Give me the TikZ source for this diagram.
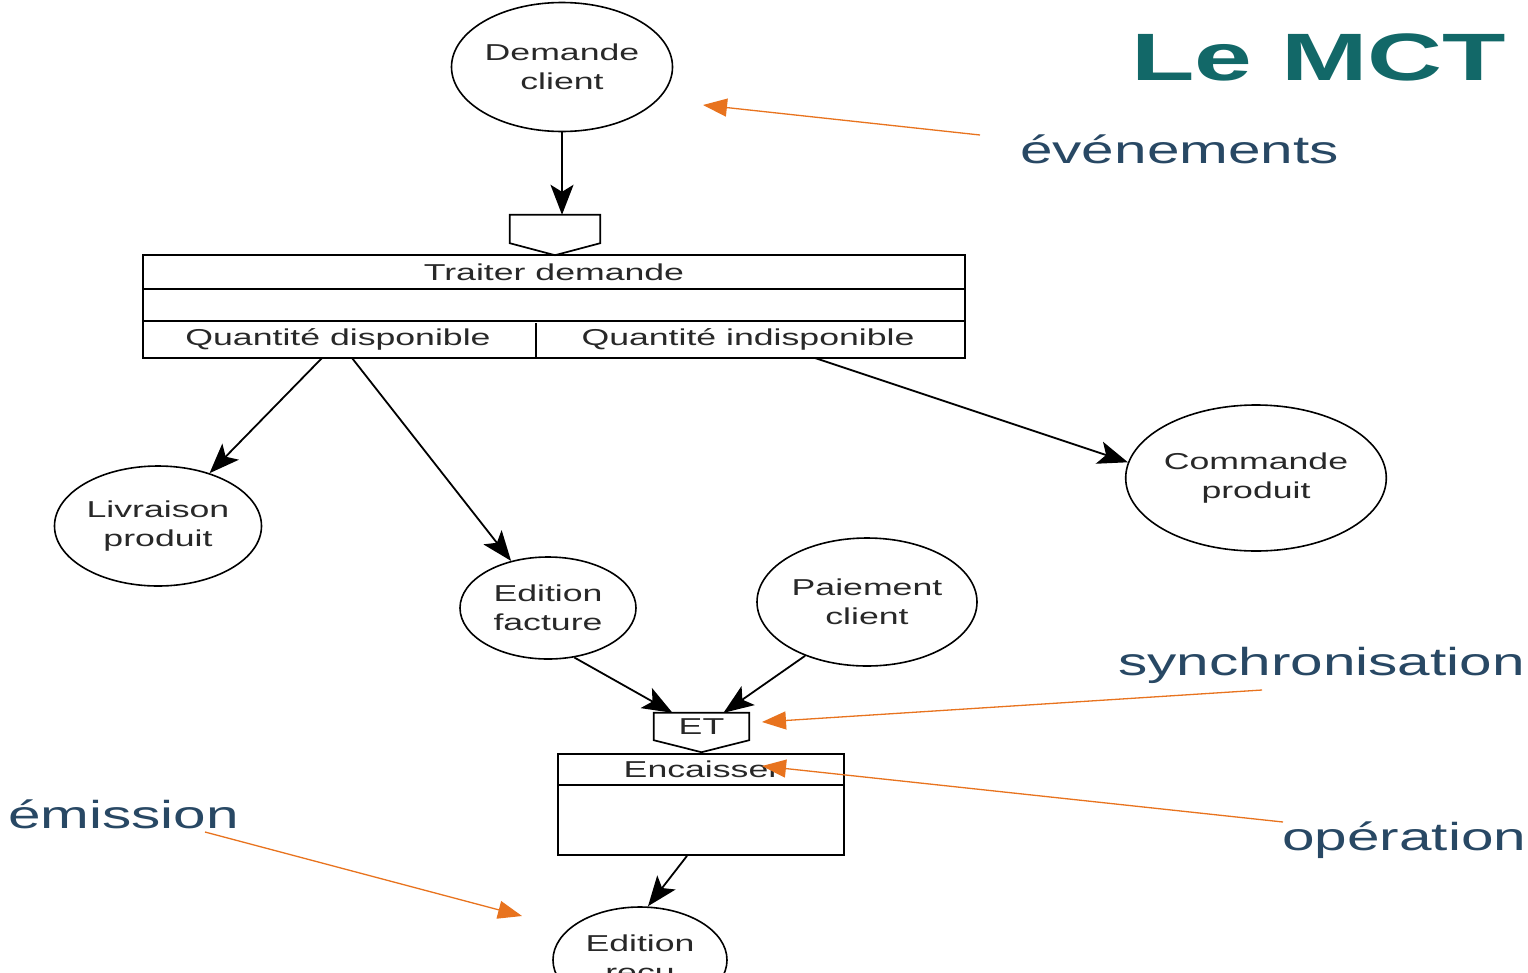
\documentclass[tikz,border=0pt]{standalone}
\usepackage{fontspec}
\usetikzlibrary{shapes.geometric,arrows.meta,calc}
\newfontfamily\diagfont[FakeStretch=1.55]{Liberation Sans}
\newfontfamily\notefont[FakeStretch=1.5]{Liberation Sans}
\newfontfamily\headfont[FakeStretch=1.55]{Liberation Sans}
\definecolor{inkgray}{RGB}{40,40,40}
\definecolor{noteblue}{RGB}{40,72,100}
\definecolor{mcttitle}{RGB}{18,104,104}
\definecolor{noteorange}{RGB}{232,115,30}
\begin{document}
\begin{tikzpicture}[x=1pt,y=-1pt,
  evt/.style={ellipse, draw, line width=1.6pt, inner sep=0pt, align=center,
    font=\diagfont\fontsize{23}{29}\selectfont, text=inkgray},
  lbl/.style={font=\diagfont\fontsize{23}{29}\selectfont, text=inkgray, inner sep=0pt},
  boxline/.style={line width=1.7pt},
  gatebox/.style={inner sep=0pt, font=\diagfont\fontsize{23}{29}\selectfont, text=inkgray},
  flow/.style={line width=1.8pt, -{Stealth[length=30pt,width=23pt,inset=7pt]}},
  note/.style={font=\notefont\fontsize{39}{44}\selectfont, text=noteblue, inner sep=0pt},
  pointer/.style={draw=noteorange, line width=1.3pt, -{Triangle[length=24pt,width=18pt]}, color=noteorange}
]
\useasboundingbox (0,0) rectangle (1528,972);
\fill[white] (0,0) rectangle (1528,972);
\clip (0,0) rectangle (1528,972);

% title
\node[font=\headfont\bfseries\fontsize{67}{72}\selectfont, text=mcttitle, inner sep=0pt, anchor=base west]
  (title) at (1131,80) {Le MCT};

% events
\node[evt, minimum width=221pt, minimum height=129pt] (dc) at (562,67) {Demande\\client};
\node[evt, minimum width=207pt, minimum height=120pt] (lp) at (158,526) {Livraison\\produit};
\node[evt, minimum width=176pt, minimum height=102pt] (ef) at (548,608) {Edition\\facture};
\node[evt, minimum width=220pt, minimum height=128pt] (pc) at (867,602) {Paiement\\client};
\node[evt, minimum width=250pt, minimum height=146pt] (cp) at (1256,478) {Commande\\produit};
\node[evt, minimum width=174pt, minimum height=106pt] (er) at (640,960) {Edition\\reçu};

% synchronisation gates
\node[gatebox, minimum width=90pt, minimum height=28pt] (s1) at (555,229) {};
\draw[boxline] (s1.north west) -- (s1.south west) -- ($(s1.south)+(0,12)$)
  -- (s1.south east) -- (s1.north east) -- cycle;
\node[gatebox, minimum width=95pt, minimum height=27pt] (et) at (701.5,726.5) {ET};
\draw[boxline] (et.north west) -- (et.south west) -- ($(et.south)+(0,12)$)
  -- (et.south east) -- (et.north east) -- cycle;

% operation "Traiter demande"
\node[draw, boxline, inner sep=0pt, minimum width=822pt, minimum height=103pt] (tr) at (554,306.5) {};
\draw[boxline] ($(tr.north west)+(0,35)$) -- ($(tr.north east)+(0,35)$);
\draw[boxline] ($(tr.north west)+(0,67)$) -- ($(tr.north east)+(0,67)$);
\draw[boxline] ($(tr.south west)+(394,0)$) -- ($(tr.south west)+(394,-36)$);
\node[lbl] (trt) at (554,272) {Traiter demande};
\node[lbl] (qd) at (338,339) {Quantité disponible};
\node[lbl] (qi) at (748,339) {Quantité indisponible};

% operation "Encaisser"
\node[draw, boxline, inner sep=0pt, minimum width=286pt, minimum height=101pt] (enc) at (701,804.5) {};
\draw[boxline] ($(enc.north west)+(0,32)$) -- ($(enc.north east)+(0,32)$);
\node[lbl] (enct) at (702,769) {Encaisser};

% flows
\coordinate (qdl) at (322,358);
\coordinate (qdr) at (352,358);
\coordinate (qir) at (815,358);
\draw[flow] (dc.south) -- (dc.south |- s1.north);
\draw[flow] (qdl) -- (lp);
\draw[flow] (qdr) -- (ef);
\draw[flow] (qir) -- (cp.173);
\draw[flow] (ef.-62) -- ([xshift=-29pt]et.north);
\draw[flow] (pc.221) -- ([xshift=22pt]et.north);
\draw[flow] ([xshift=-14pt]enc.south) -- ([xshift=8pt]er.north);

% annotations
\node[note, anchor=base west] (nev) at (1020,163) {événements};
\node[note, anchor=base west] (nsy) at (1118,675) {synchronisation};
\node[note, anchor=base west] (nop) at (1282,850) {opération};
\node[note, anchor=base west] (nem) at (8,828) {émission};

\coordinate (evtail) at (980,135);
\coordinate (evtip) at (703,105);
\coordinate (sytail) at (1262,690);
\coordinate (sytip) at (762,722);
\coordinate (optail) at (1283,822);
\coordinate (optip) at (762,766);
\coordinate (emtail) at (205,832);
\coordinate (emtip) at (522,916);
\draw[pointer] (evtail) -- (evtip);
\draw[pointer] (sytail) -- (sytip);
\draw[pointer] (optail) -- (optip);
\draw[pointer] (emtail) -- (emtip);
\end{tikzpicture}
\end{document}
